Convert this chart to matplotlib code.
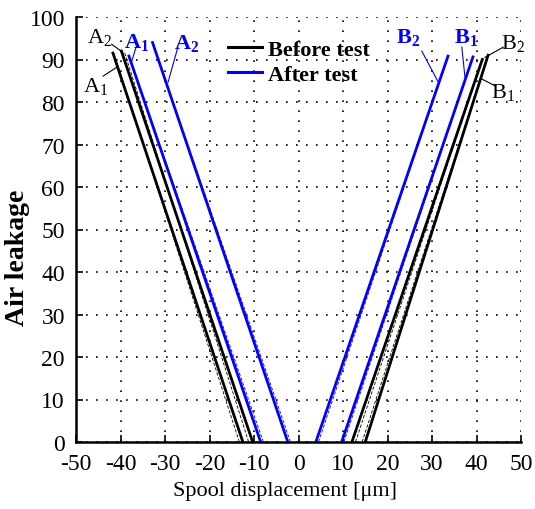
import matplotlib
matplotlib.use("Agg")
import matplotlib.pyplot as plt

plt.rcParams['font.family'] = ['Liberation Serif', 'DejaVu Serif']
plt.rcParams['mathtext.fontset'] = 'custom'
plt.rcParams['mathtext.rm'] = 'Liberation Serif'
plt.rcParams['mathtext.bf'] = 'Liberation Serif:bold'
plt.rcParams['axes.unicode_minus'] = False

# measured lines: (x at bottom, x at top), (y at bottom, y at top)
before_lines = {
    'A1': ([-12.5, -41.7], [0, 91.5]),
    'A2': ([-10.3, -39.8], [0, 92.0]),
    'B1': ([12.0, 41.3], [0, 90.0]),
    'B2': ([15.0, 42.6], [0, 91.0]),
}
after_lines = {
    'A1': ([-8.5, -38.1], [0, 90.8]),
    'A2': ([-2.4, -32.8], [0, 94.0]),
    'B1': ([9.7, 39.2], [0, 90.6]),
    'B2': ([3.9, 33.6], [0, 90.8]),
}
# linear fits (thin dashed)
before_fits = {
    'A1': ([-13.3, -41.5], [0, 91.5]),
    'A2': ([-11.2, -39.2], [0, 92.0]),
    'B1': ([12.8, 41.3], [0, 90.0]),
    'B2': ([14.3, 42.6], [0, 91.0]),
}
after_fits = {
    'A1': ([-7.9, -38.1], [0, 90.8]),
    'A2': ([-1.8, -32.8], [0, 94.0]),
    'B1': ([10.2, 39.2], [0, 90.6]),
    'B2': ([4.5, 33.6], [0, 90.8]),
}

# label text, label pos, leader start, leader end, colour, bold
labels = [
    ('A_2', (-44.6, 95.5), (-42.0, 93.6), (-39.9, 92.0), 'black', False),
    ('A_1', (-45.7, 83.8), (-43.9, 86.1), (-40.8, 88.2), 'black', False),
    ('A_1', (-36.3, 94.3), (-36.5, 92.9), (-37.4, 89.8), 'blue', True),
    ('A_2', (-25.1, 94.1), (-27.1, 92.9), (-29.3, 84.7), 'blue', True),
    ('B_2', (24.6, 95.3), (27.7, 92.0), (31.3, 84.9), 'blue', True),
    ('B_1', (37.6, 95.3), (36.7, 92.9), (37.4, 85.9), 'blue', True),
    ('B_2', (48.2, 94.1), (46.0, 92.9), (41.9, 90.5), 'black', False),
    ('B_1', (46.0, 82.4), (44.2, 83.8), (41.2, 85.4), 'black', False),
]

fig = plt.figure(figsize=(5.35, 5.1), dpi=100)
ax = fig.add_axes([76 / 535, 1 - 443 / 510, 445 / 535, 425 / 510])

for i, (xs, ys) in enumerate(before_lines.values()):
    ax.plot(xs, ys, color='black', lw=2.0, label='Before test' if i == 0 else None)
for i, (xs, ys) in enumerate(after_lines.values()):
    ax.plot(xs, ys, color='blue', lw=2.0, label='After test' if i == 0 else None)
for xs, ys in before_fits.values():
    ax.plot(xs, ys, color='black', lw=0.6, ls=(0, (4, 2)))
for xs, ys in after_fits.values():
    ax.plot(xs, ys, color='blue', lw=0.6, ls=(0, (4, 2)))

for txt, pos, p0, p1, col, bold in labels:
    s = r'$\mathbf{%s}$' % txt if bold else r'$\mathrm{%s}$' % txt
    ax.text(pos[0], pos[1], s, color=col, fontsize=16, ha='center', va='center')
    ax.plot([p0[0], p1[0]], [p0[1], p1[1]], color=col, lw=0.8)

ax.set_xlim(-50, 50)
ax.set_ylim(0, 100)
ax.set_xticks(range(-50, 51, 10))
ax.set_yticks(range(0, 101, 10))
ax.grid(True, color='black', ls=(0, (1, 5)), lw=1.2)
ax.tick_params(direction='in', length=5, width=1.2, labelsize=17, pad=8)
ax.spines['top'].set_visible(False)
ax.spines['right'].set_visible(False)
ax.spines['left'].set_linewidth(1.8)
ax.spines['bottom'].set_linewidth(1.8)

ax.set_xlabel('Spool displacement [μm]', fontsize=16)
ax.xaxis.set_label_coords((285 - 76) / 445, -(492 - 443) / 425)
ax.set_ylabel('Air leakage', fontsize=20, fontweight='bold')
ax.yaxis.set_label_coords(-(76 - 18) / 445, (443 - 258) / 425)
ax.yaxis.label.set_va('center')
ax.xaxis.label.set_va('center')

leg = ax.legend(loc='upper left', bbox_to_anchor=(0.342, 0.947), frameon=False,
                borderpad=0, borderaxespad=0, handlelength=1.5, handletextpad=0.3,
                labelspacing=0.2, prop={'size': 16, 'weight': 'bold'})
for line in leg.get_lines():
    line.set_linewidth(2.2)

fig.savefig('out.png', dpi=100)
